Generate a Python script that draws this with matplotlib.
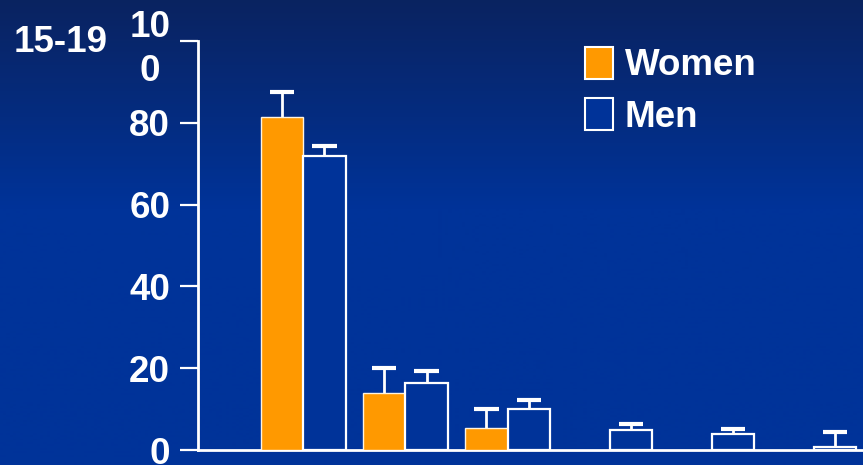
import matplotlib
matplotlib.use("Agg")
import matplotlib.pyplot as plt
import matplotlib.colors as mcolors
from matplotlib.patches import Patch
import numpy as np

# age-group bars, no women in the last three groups
groups = ["G1", "G2", "G3", "G4", "G5", "G6"]
women = [81.5, 14.0, 5.5, np.nan, np.nan, np.nan]
women_err = [6.0, 6.0, 4.5, np.nan, np.nan, np.nan]
men = [72.0, 16.5, 10.0, 5.0, 4.0, 0.8]
men_err = [2.3, 2.7, 2.3, 1.3, 1.2, 3.7]
yticks = [0, 20, 40, 60, 80, 100]
ytick_labels = ["0", "20", "40", "60", "80", "10\n0"]
panel_label = "15-19"

ORANGE = "#ff9900"
NAVY = "#003399"
FS = 26.5


def main():
    plt.rcParams["font.family"] = ["Liberation Sans", "DejaVu Sans"]
    plt.rcParams["font.weight"] = "bold"

    fig = plt.figure(figsize=(8.63, 4.65), dpi=100)

    # slide-style background: dark at the top, flat blue below
    bg = fig.add_axes([0, 0, 1, 1], zorder=-10)
    bg.axis("off")
    top = np.array(mcolors.to_rgb("#0a2360"))
    bot = np.array(mcolors.to_rgb(NAVY))
    t = np.clip(np.linspace(0, 1, 465) / 0.45, 0, 1)[:, None]
    grad = top * (1 - t) + bot * t
    bg.imshow(grad[:, None, :], aspect="auto", extent=[0, 1, 0, 1])

    W, H = 863, 465
    left, right, y0, y100 = 198, 863, 450, 41
    ax = fig.add_axes([left / W, (H - y0) / H, (right - left) / W, (y0 - y100) / H])
    ax.patch.set_alpha(0)

    x = np.arange(len(groups))
    w = 0.416
    ax.bar(x - w / 2, women, w, color=ORANGE, edgecolor="#fff4e0", linewidth=1.0,
           label="Women", zorder=3)
    ax.bar(x + w / 2, men, w, color=NAVY, edgecolor="white", linewidth=1.6,
           label="Men", zorder=3)

    # one-sided error bars (upper only)
    cap = 0.12
    for xs, vals, errs in ((x - w / 2, women, women_err), (x + w / 2, men, men_err)):
        vals = np.asarray(vals)
        tops = vals + np.asarray(errs)
        ax.vlines(xs, vals, tops, color="white", linewidth=2.0, zorder=2)
        ax.hlines(tops, xs - cap, xs + cap, color="white", linewidth=3.0, zorder=2)

    ax.set_xlim(-1.03, 5.48)
    ax.set_ylim(0, 100)
    ax.set_xticks([])
    ax.set_yticks(yticks)
    ax.set_yticklabels(ytick_labels, multialignment="center", linespacing=1.35)
    ax.tick_params(axis="y", colors="white", length=13, width=1.6, pad=7,
                   labelsize=FS)
    for s in ("top", "right"):
        ax.spines[s].set_visible(False)
    for s in ("left", "bottom"):
        ax.spines[s].set_color("white")
        ax.spines[s].set_linewidth(2.0)

    fig.text(14 / W, 1 - 42 / H, panel_label, color="white", fontsize=FS,
             fontweight="bold", va="center", ha="left")

    handles = [Patch(facecolor=ORANGE, edgecolor="white", linewidth=1.5),
               Patch(facecolor=NAVY, edgecolor="white", linewidth=1.5)]
    leg = fig.legend(handles, ["Women", "Men"], loc="upper left",
                     bbox_to_anchor=(559 / W, 1 - 21 / H), frameon=False,
                     fontsize=FS, handlelength=0.78, handleheight=0.95,
                     handletextpad=0.3, labelspacing=0.4, borderpad=0.2)
    for txt in leg.get_texts():
        txt.set_color("white")

    fig.savefig("out.png", dpi=100)


if __name__ == "__main__":
    main()
